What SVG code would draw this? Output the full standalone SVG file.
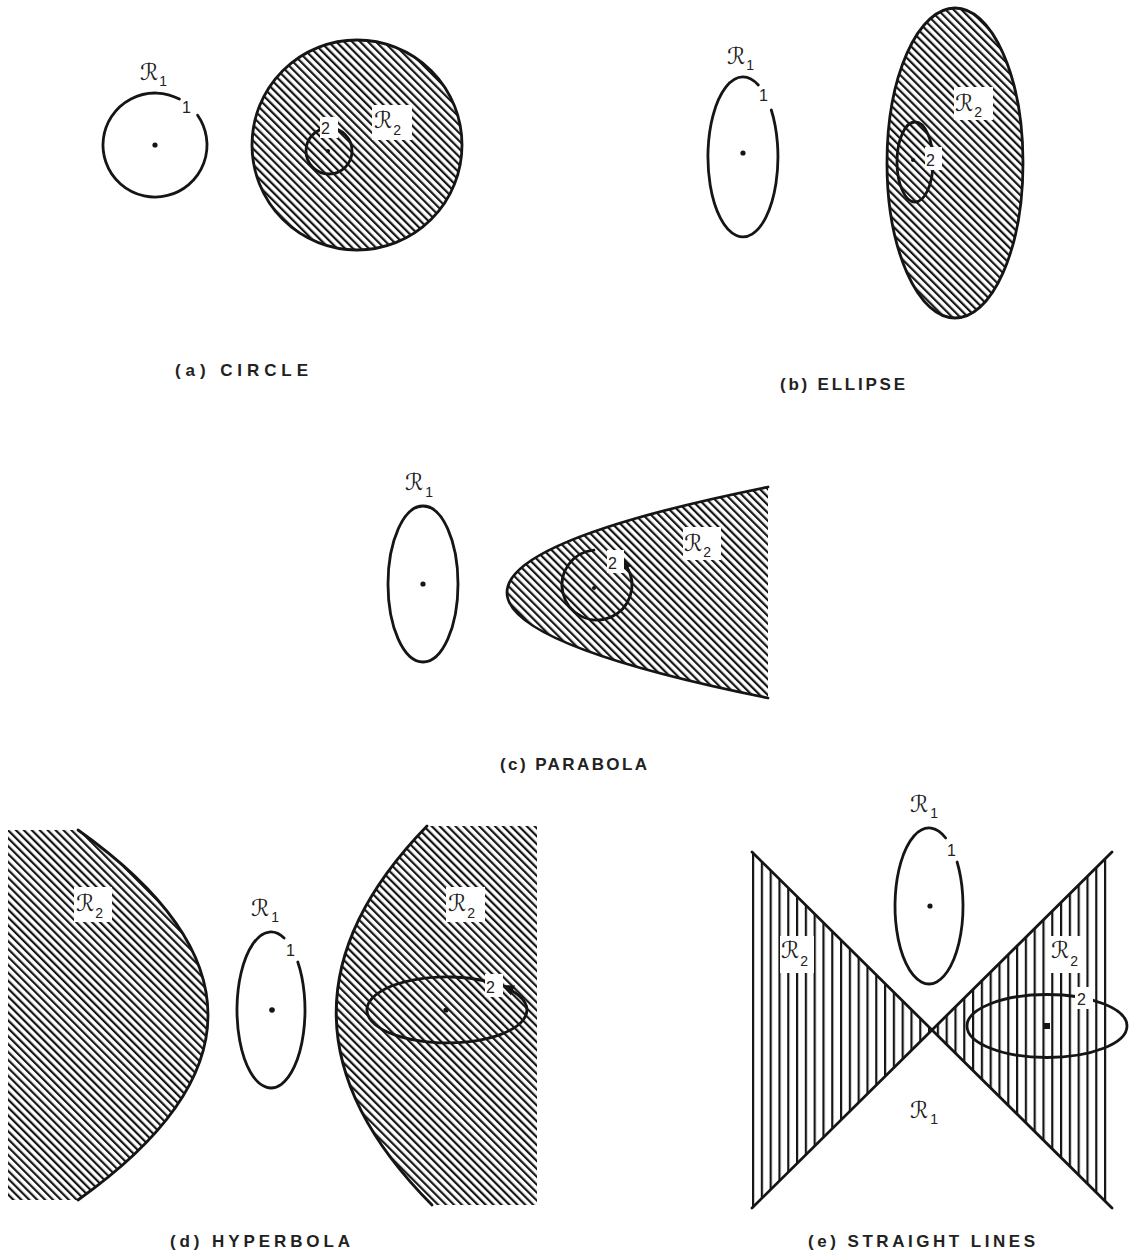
<svg xmlns="http://www.w3.org/2000/svg" width="1130" height="1254" viewBox="0 0 1130 1254">
<defs>
<pattern id="diag" patternUnits="userSpaceOnUse" width="5.6" height="10" patternTransform="rotate(-45)"><rect x="0" y="0" width="2.2" height="10" fill="#151515"/></pattern>
<pattern id="vert" patternUnits="userSpaceOnUse" width="8.8" height="10" x="752"><rect x="0" y="0" width="2.2" height="10" fill="#151515"/></pattern>
</defs>
<style>
.c{fill:none;stroke:#151515;stroke-width:2.8;stroke-linejoin:round;stroke-linecap:round}
.dot{fill:#151515}
.box{fill:#fff}
.R{font-family:"DejaVu Sans","Noto Sans",sans-serif;font-size:23px;fill:#222}
.sub{font-family:"Liberation Sans",Arial,sans-serif;font-size:14px}
.n{font-family:"Liberation Sans",Arial,sans-serif;font-size:16px;fill:#222}
.cap{font-family:"Liberation Sans",Arial,sans-serif;font-size:17px;font-weight:bold;fill:#222}
</style>
<rect width="1130" height="1254" fill="#fff"/>

<!-- (a) CIRCLE -->
<g id="a-r1">
<path class="c" d="M197.6,115.2 A52,52 0 1 1 179.4,99.1"/>
<circle class="dot" cx="155" cy="145" r="2.6"/>
<text class="R" x="140" y="80">ℛ<tspan class="sub" dx="1" dy="6">1</tspan></text>
<text class="n" x="182" y="113">1</text>
</g>
<g id="a-r2">
<circle cx="357" cy="145" r="105" fill="url(#diag)"/>
<circle class="c" cx="357" cy="145" r="105"/>
<circle class="c" cx="329" cy="151" r="23"/>
<circle class="dot" cx="328" cy="151" r="2"/>
<rect class="box" x="320" y="117" width="18" height="21"/>
<text class="n" x="321" y="134">2</text>
<rect class="box" x="372" y="105" width="40" height="35"/>
<text class="R" x="374" y="128">ℛ<tspan class="sub" dx="1" dy="7">2</tspan></text>
</g>
<text class="cap" x="175" y="376" textLength="133" lengthAdjust="spacing">(a) CIRCLE</text>

<!-- (b) ELLIPSE -->
<g id="b-r1">
<path class="c" d="M771.3,110 A35,80 0 1 1 758.3,85"/>
<circle class="dot" cx="743" cy="153" r="2.6"/>
<text class="R" x="727" y="64">ℛ<tspan class="sub" dx="1" dy="6">1</tspan></text>
<text class="n" x="759" y="101">1</text>
</g>
<g id="b-r2">
<ellipse cx="955" cy="163" rx="68" ry="155" fill="url(#diag)"/>
<ellipse class="c" cx="955" cy="163" rx="68" ry="155"/>
<ellipse class="c" cx="915" cy="162" rx="18" ry="40"/>
<circle class="dot" cx="913" cy="160" r="2"/>
<rect class="box" x="925" y="147" width="17" height="23"/>
<text class="n" x="926" y="166">2</text>
<rect class="box" x="954" y="87" width="39" height="33"/>
<text class="R" x="955" y="111">ℛ<tspan class="sub" dx="1" dy="6">2</tspan></text>
</g>
<text class="cap" x="780" y="390" textLength="125" lengthAdjust="spacing">(b) ELLIPSE</text>

<!-- (c) PARABOLA -->
<g id="c-r1">
<ellipse class="c" cx="423" cy="584" rx="35" ry="78"/>
<circle class="dot" cx="423" cy="584" r="2.6"/>
<text class="R" x="405" y="490">ℛ<tspan class="sub" dx="2" dy="7">1</tspan></text>
</g>
<g id="c-r2">
<path d="M768,487 Q246,592.5 768,698 Z" fill="url(#diag)"/>
<path class="c" d="M768,487 Q246,592.5 768,698"/>
<path class="c" d="M627,567 A35,35 0 1 1 594,550.1"/>
<polygon class="dot" points="623,557 622.5,570 631.5,566"/>
<circle class="dot" cx="594" cy="588" r="2"/>
<rect class="box" x="607" y="550" width="17" height="23"/>
<text class="n" x="608" y="569">2</text>
<rect class="box" x="683" y="527" width="38" height="33"/>
<text class="R" x="684" y="551">ℛ<tspan class="sub" dx="1" dy="6">2</tspan></text>
</g>
<text class="cap" x="500" y="770" textLength="147" lengthAdjust="spacing">(c) PARABOLA</text>

<!-- (d) HYPERBOLA -->
<g id="d-left">
<path fill="url(#diag)" d="M8,830 L78,830 Q338,1015 78,1200 L8,1200 Z"/>
<path class="c" d="M78,830 Q338,1015 78,1200"/>
<rect class="box" x="74" y="887" width="38" height="35"/>
<text class="R" x="76" y="911">ℛ<tspan class="sub" dx="1" dy="7">2</tspan></text>
</g>
<g id="d-r1">
<path class="c" d="M297.8,962 A34,78 0 1 1 284.1,938"/>
<circle class="dot" cx="272" cy="1010" r="2.8"/>
<text class="R" x="251" y="916">ℛ<tspan class="sub" dx="2" dy="6">1</tspan></text>
<text class="n" x="286" y="956">1</text>
</g>
<g id="d-right">
<path fill="url(#diag)" d="M427,826 Q243,1015 432,1205 L537,1205 L537,826 Z"/>
<path class="c" d="M427,826 Q243,1015 432,1205"/>
<path class="c" d="M508.3,988.8 A80,33 0 1 1 487,981.4"/>
<polygon class="dot" points="501,985 515,985.5 511,995.5"/>
<circle class="dot" cx="446" cy="1010" r="2.6"/>
<rect class="box" x="485" y="974" width="18" height="23"/>
<text class="n" x="486" y="993">2</text>
<rect class="box" x="446" y="887" width="39" height="35"/>
<text class="R" x="448" y="911">ℛ<tspan class="sub" dx="1" dy="7">2</tspan></text>
</g>
<text class="cap" x="170" y="1247" textLength="180" lengthAdjust="spacing">(d) HYPERBOLA</text>

<!-- (e) STRAIGHT LINES -->
<g id="e-r2">
<polygon points="752,852 932,1030 752,1208" fill="url(#vert)"/>
<polygon points="1112,852 932,1030 1112,1208" fill="url(#vert)"/>
<rect class="box" x="780" y="936" width="34" height="37"/>
<rect class="box" x="1050" y="936" width="36" height="37"/>
<text class="R" x="781" y="958">ℛ<tspan class="sub" dx="1" dy="8">2</tspan></text>
<text class="R" x="1051" y="958">ℛ<tspan class="sub" dx="1" dy="8">2</tspan></text>
</g>
<g id="connectors">
<path class="c" d="M752,852 L1112,1208 M1112,852 L752,1208"/>
</g>
<g id="e-r1">
<path class="c" d="M957.1,862 A34,78 0 1 1 945.7,838"/>
<circle class="dot" cx="930" cy="906" r="2.6"/>
<text class="R" x="910" y="812">ℛ<tspan class="sub" dx="2" dy="6">1</tspan></text>
<text class="n" x="947" y="856">1</text>
<text class="R" x="910" y="1118">ℛ<tspan class="sub" dx="2" dy="6">1</tspan></text>
</g>
<g id="e-ellipse2">
<ellipse class="c" cx="1047" cy="1026" rx="80" ry="31.5"/>
<rect class="dot" x="1044" y="1023" width="6" height="6"/>
<rect class="box" x="1075" y="987" width="18" height="22"/>
<text class="n" x="1077" y="1005">2</text>
</g>
<text class="cap" x="808" y="1247" textLength="227" lengthAdjust="spacing">(e) STRAIGHT LINES</text>
</svg>
